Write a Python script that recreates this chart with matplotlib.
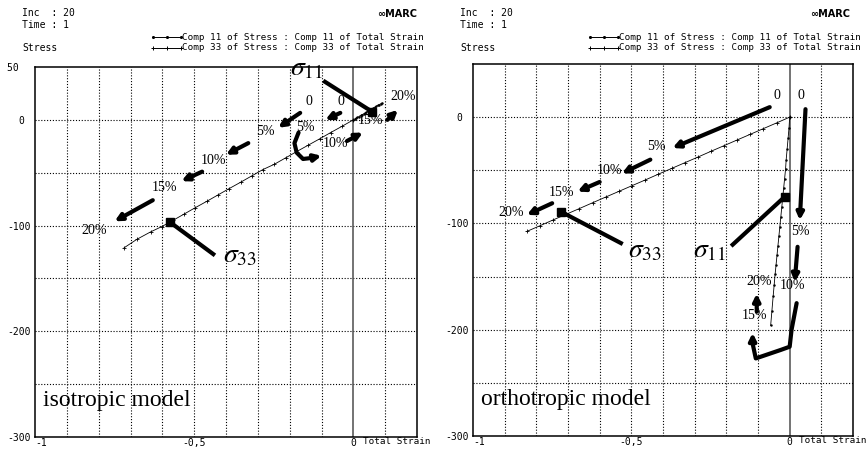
import matplotlib.pyplot as plt
from matplotlib.lines import Line2D
from matplotlib.transforms import Bbox, TransformedBbox

plt.rcParams['mathtext.fontset'] = 'stix'

W, H = 866, 455
MONO = 'DejaVu Sans Mono'
SERIF = 'Liberation Serif'

# isotropic model, one point per increment (Inc 0 .. 20)
iso_strain_11 = [0, 0.004, 0.009, 0.013, 0.018, 0.023, 0.027, 0.032, 0.036, 0.041, 0.045,
                 0.050, 0.054, 0.059, 0.063, 0.068, 0.072, 0.077, 0.081, 0.086, 0.090]
iso_stress_11 = [0, 0.7, 1.5, 2.3, 3.1, 4.0, 4.8, 5.6, 6.4, 7.2, 8.0,
                 8.8, 9.6, 10.4, 11.2, 12.0, 12.8, 13.6, 14.4, 15.2, 16.0]
iso_strain_33 = [0, -0.035, -0.071, -0.106, -0.142, -0.178, -0.213, -0.248, -0.284, -0.319, -0.354,
                 -0.390, -0.425, -0.460, -0.496, -0.531, -0.566, -0.602, -0.637, -0.680, -0.720]
iso_stress_33 = [0, -6, -12, -18, -24, -30, -36, -42, -47, -53, -59,
                 -65, -71, -77, -83, -89, -95, -101, -106, -113, -121]

# orthotropic model
ortho_strain_11 = [0, -0.002, -0.005, -0.008, -0.011, -0.013, -0.016, -0.019, -0.022, -0.025, -0.028,
                   -0.031, -0.034, -0.037, -0.040, -0.043, -0.046, -0.049, -0.052, -0.056, -0.060]
ortho_stress_11 = [0, -10, -20, -30, -40, -49, -58, -67, -76, -85, -94,
                   -103, -112, -121, -130, -139, -148, -158, -168, -182, -196]
ortho_strain_33 = [0, -0.041, -0.083, -0.124, -0.166, -0.207, -0.249, -0.290, -0.332, -0.373, -0.415,
                   -0.456, -0.498, -0.539, -0.581, -0.622, -0.664, -0.705, -0.747, -0.788, -0.830]
ortho_stress_33 = [0, -5.4, -10.8, -16.1, -21.5, -26.8, -32.2, -37.6, -43.0, -48.3, -53.7,
                   -59.1, -64.5, -69.8, -75.2, -80.5, -86.0, -91.3, -96.7, -102.1, -107.5]

legend_11 = 'Comp 11 of Stress : Comp 11 of Total Strain'
legend_33 = 'Comp 33 of Stress : Comp 33 of Total Strain'

# hand annotations: load-step labels, step arrows (tail, head), sigma pointers
iso_steps = [('0', -0.14, 17), ('0', -0.038, 17), ('5%', -0.15, -7.5), ('5%', -0.277, -11),
             ('10%', -0.44, -38), ('15%', -0.594, -64), ('20%', -0.815, -105),
             ('10%', -0.057, -22), ('15%', 0.053, -1), ('20%', 0.157, 22)]
iso_arrows = [((-0.167, 6.6), (-0.236, -7.5)), ((-0.041, 6.6), (-0.088, 0)),
              ((-0.33, -22), (-0.40, -33)), ((-0.475, -49), (-0.54, -58)),
              ((-0.63, -76), (-0.75, -96)), ((-0.02, -20), (0.03, -12)),
              ((0.107, 0), (0.14, 9.4))]
iso_hook = [(-0.172, -12), (-0.185, -22), (-0.178, -31), (-0.158, -37), (-0.13, -36), (-0.10, -34)]
iso_sigma = [(r'$\sigma_{11}$', (-0.198, 42), (-0.089, 36), (0.06, 7.5)),
             (r'$\sigma_{33}$', (-0.41, -135), (-0.44, -127), (-0.575, -97))]

ortho_steps = [('0', -0.041, 20), ('0', 0.035, 20), ('5%', -0.42, -28), ('10%', -0.57, -50),
               ('15%', -0.72, -71), ('20%', -0.88, -90), ('5%', 0.035, -108),
               ('10%', 0.01, -158), ('20%', -0.098, -155), ('15%', -0.11, -187)]
ortho_arrows = [((-0.063, 9.4), (-0.37, -29)), ((-0.44, -40), (-0.53, -53)),
                ((-0.60, -61), (-0.67, -70)), ((-0.75, -81), (-0.83, -92)),
                ((0.05, 7.5), (0.032, -97)), ((0.025, -122), (0.016, -155)),
                ((-0.104, -183), (-0.104, -166))]
ortho_hook = [(0.022, -175), (0.006, -200), (0, -216), (-0.028, -219), (-0.107, -227),
              (-0.117, -213), (-0.117, -203)]
ortho_sigma = [(r'$\sigma_{11}$', (-0.306, -132), (-0.18, -120), (-0.016, -75)),
               (r'$\sigma_{33}$', (-0.51, -132), (-0.533, -118.5), (-0.722, -89))]


def px(x, y):
    return x / W, 1 - y / H


def thick_arrow(ax, tail, head):
    ax.annotate('', xy=head, xytext=tail,
                arrowprops=dict(arrowstyle='-|>', lw=3.0, color='black',
                                mutation_scale=10, shrinkA=0, shrinkB=0))


def header(fig, x0, legend_x, right):
    fig.text(*px(x0, 13), 'Inc  : 20', family=MONO, size=7, va='center')
    fig.text(*px(x0, 25), 'Time : 1', family=MONO, size=7, va='center')
    fig.text(*px(x0, 48), 'Stress', family=MONO, size=7, va='center')
    fig.text(*px(right - 16, 14), '\u221eMARC', family='DejaVu Sans', size=7,
             weight='bold', va='center', ha='right')
    for y, label, marker in [(37, legend_11, '.'), (48, legend_33, '+')]:
        (lx0, ly), (lx1, _) = px(legend_x, y), px(legend_x + 28, y)
        fig.add_artist(Line2D([lx0, (lx0 + lx1) / 2, lx1], [ly, ly, ly], color='black', lw=0.7,
                              marker=marker, ms=3, mew=0.7, transform=fig.transFigure))
        fig.text(lx1 + 1 / W, ly, label, family=MONO, size=6.7, va='center')


def panel(fig, rect, s11, e11, s33, e33, ylabels, steps, arrows, hook, sigmas, title):
    ax = fig.add_axes(rect)
    ax.set_xlim(-1, 0.2)
    ax.set_ylim(-300, 50)
    for x in [-0.9, -0.8, -0.7, -0.6, -0.5, -0.4, -0.3, -0.2, -0.1, 0.1]:
        ax.axvline(x, color='black', lw=0.8, ls=(0, (1, 1.6)), zorder=1)
    for y in [0, -50, -100, -150, -200, -250]:
        ax.axhline(y, color='black', lw=0.8, ls=(0, (1, 1.6)), zorder=1)
    ax.axvline(0, color='0.3', lw=1.1, zorder=1)
    for s in ax.spines.values():
        s.set_linewidth(1.1)

    ax.plot(e11, s11, color='black', lw=0.6, marker='.', ms=1.5, zorder=3)
    ax.plot(e33, s33, color='black', lw=0.6, marker='+', ms=3.5, mew=0.6, zorder=3)

    ax.set_xticks([-1, -0.5, 0])
    ax.set_xticklabels(['-1', '-0,5', '0'])
    ax.set_yticks([v for v, _ in ylabels])
    ax.set_yticklabels([t for _, t in ylabels])
    ax.tick_params(length=0, labelsize=7, pad=3)
    ax.tick_params(axis='x', pad=1)
    for t in ax.get_xticklabels() + ax.get_yticklabels():
        t.set_family(MONO)
    ax.get_xticklabels()[0].set_ha('left')
    ax.text(0.03, -300, 'Total Strain', family=MONO, size=6.7, va='top', ha='left',
            clip_on=False)

    for label, x, y in steps:
        ax.text(x, y, label, family=SERIF, size=10, ha='center', va='center', zorder=5)
    for tail, head in arrows:
        thick_arrow(ax, tail, head)
    hx, hy = zip(*hook[:-1])
    ax.plot(hx, hy, color='black', lw=3.0, solid_capstyle='round', zorder=4)
    thick_arrow(ax, hook[-2], hook[-1])
    for label, (tx, ty), tail, head in sigmas:
        ax.text(tx, ty, label, family=SERIF, size=20, ha='left', va='baseline',
                zorder=5, clip_on=False)
        ax.plot([tail[0], head[0]], [tail[1], head[1]], color='black', lw=3.0, zorder=4)
        ax.plot(*head, marker='s', ms=6, color='black', zorder=4)
    ax.text(-0.975, -271, title, family=SERIF, size=17, ha='left', va='baseline', zorder=5)
    return ax


def main():
    fig = plt.figure(figsize=(W / 100, H / 100), dpi=100)
    header(fig, 22, 153, 433)
    header(fig, 460, 590, W)
    panel(fig, [35 / W, 18 / H, 382 / W, 370 / H],
          iso_stress_11, iso_strain_11, iso_stress_33, iso_strain_33,
          [(50, '50  '), (0, '0 '), (-100, '-100'), (-200, '-200'), (-300, '-300')],
          iso_steps, iso_arrows, iso_hook, iso_sigma, 'isotropic model')
    panel(fig, [473 / W, 19 / H, 380 / W, 372 / H],
          ortho_stress_11, ortho_strain_11, ortho_stress_33, ortho_strain_33,
          [(0, '0 '), (-100, '-100'), (-200, '-200'), (-300, '-300')],
          ortho_steps, ortho_arrows, ortho_hook, ortho_sigma, 'orthotropic model')
    fig.savefig('out.png', dpi=100)


if __name__ == '__main__':
    main()
